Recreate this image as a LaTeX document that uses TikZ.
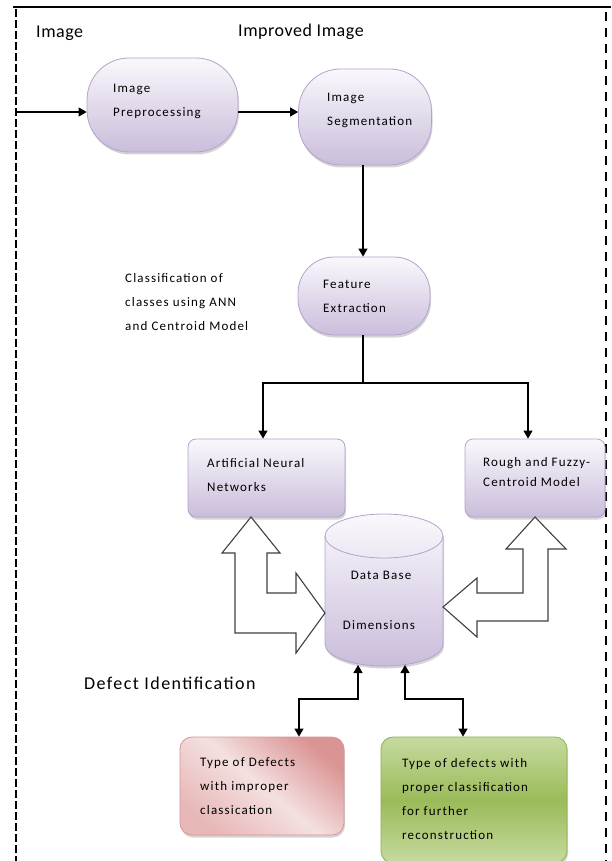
\documentclass[tikz,border=0pt]{standalone}
\usepackage{fontspec}
\setmainfont{Carlito}
\newfontfamily\smallf[LetterSpace=9]{Carlito}
\newfontfamily\bigf[LetterSpace=3]{Carlito}
\newfontfamily\bigwf[LetterSpace=8]{Carlito}
\usetikzlibrary{arrows.meta,shadows}
\definecolor{lavtop}{RGB}{250,248,252}
\definecolor{lavbot}{RGB}{202,189,219}
\definecolor{lavdraw}{RGB}{180,162,204}
\definecolor{pinkdark}{RGB}{218,148,147}
\definecolor{pinklight}{RGB}{244,224,224}
\definecolor{pinkmid}{RGB}{232,184,184}
\definecolor{pinkdraw}{RGB}{214,150,148}
\definecolor{greenmid}{RGB}{155,187,89}
\definecolor{greenlight}{RGB}{198,218,160}
\definecolor{greendraw}{RGB}{140,176,80}
\tikzset{
  shad/.style={drop shadow={shadow xshift=1pt,shadow yshift=-2.5pt,opacity=0.28,fill=black!60}},
  proc/.style={draw=lavdraw,line width=0.8pt,top color=lavtop,bottom color=lavbot,shad},
  txt/.style={inner sep=0pt,align=left,anchor=west,font=\smallf\fontsize{13}{24}\selectfont},
  bigtxt/.style={inner sep=0pt,anchor=west,font=\bigf\fontsize{18}{21}\selectfont},
  conn/.style={line width=1.2pt,-{Triangle[length=8pt,width=9pt]}},
  conn2/.style={line width=1.2pt,{Triangle[length=8pt,width=9pt]}-{Triangle[length=8pt,width=9pt]}},
  hollow/.style={draw=black!75,line width=1.1pt,fill=white,line join=miter},
}
\begin{document}
\begin{tikzpicture}[x=1pt,y=-1pt]
\useasboundingbox (0,0) rectangle (611,861);
% frame
\draw[line width=2.6pt] (13,7) -- (611,7);
\draw[line width=2pt,dash pattern=on 8pt off 3pt] (16,9) -- (16,861);
\draw[line width=1.6pt,dash pattern=on 9pt off 7pt] (606,12) -- (606,861);
% labels
\node[bigtxt] (limg) at (36,33) {Image};
\node[bigtxt] (limp) at (238,32) {Improved Image};
\node[bigtxt,font=\bigwf\fontsize{18}{21}\selectfont] (ldef) at (84,683) {Defect Identification};
\node[txt] (lcls) at (125,302.5) {Classification of\\classes using ANN\\and Centroid Model};
% process nodes
\node[proc,rounded corners=42pt,minimum width=151pt,minimum height=94pt] (pre) at (162.5,105) {};
\node[txt] (tpre) at (113,101.5) {Image\\Preprocessing};
\node[proc,rounded corners=42pt,minimum width=133pt,minimum height=96pt] (seg) at (365,117) {};
\node[txt] (tseg) at (327,110.5) {Image\\Segmentation};
\node[proc,rounded corners=36pt,minimum width=132pt,minimum height=78pt] (fe) at (364,296) {};
\node[txt] (tfe) at (323,296.5) {Feature\\Extraction};
\node[proc,rounded corners=8pt,minimum width=157pt,minimum height=78pt] (ann) at (266.5,478) {};
\node[txt] (tann) at (207,475) {Artificial Neural\\Networks};
\node[proc,rounded corners=8pt,minimum width=140pt,minimum height=78pt] (rfc) at (535,478) {};
\node[txt,font=\smallf\fontsize{13}{20}\selectfont] (trfc) at (483,472) {Rough and Fuzzy-\\Centroid Model};
% database cylinder
\node[minimum width=118pt,minimum height=152pt,inner sep=0pt] (db) at (384,590) {};
\path[shad,draw=lavdraw,line width=0.8pt,top color=lavtop,bottom color=lavbot]
  (325,536) -- (325,644) arc (180:360:59pt and 22pt) -- (443,536) arc (0:180:59pt and 22pt) -- cycle;
\draw[lavdraw,line width=0.8pt] (325,536) arc (180:360:59pt and 22pt);
\node[inner sep=0pt,font=\smallf\fontsize{13}{16}\selectfont] (tdb1) at (381,575) {Data Base};
\node[inner sep=0pt,font=\smallf\fontsize{13}{16}\selectfont] (tdb2) at (379,625) {Dimensions};
% result boxes
\node[draw=pinkdraw,line width=0.8pt,rounded corners=12pt,minimum width=164pt,minimum height=98pt,
      top color=pinkdark,bottom color=pinkmid,middle color=pinklight,shading angle=-40,shad] (pink) at (262,786) {};
\node[txt] (tpink) at (200,786) {Type of Defects\\with improper\\classication};
\node[draw=greendraw,line width=0.8pt,rounded corners=12pt,minimum width=186pt,minimum height=126pt,
      top color=greenlight,bottom color=greenlight,middle color=greenmid,shad] (green) at (474,800) {};
\node[txt] (tgreen) at (402,799) {Type of defects with\\proper classification\\for further\\reconstruction};
% connectors
\coordinate (lin) at (16,112);
\draw[conn] (lin) -- (lin -| pre.west);
\draw[conn] (pre.east |- lin) -- (seg.west |- lin);
\draw[conn] ([xshift=-2pt]seg.south) -- ([xshift=-1pt]fe.north);
\coordinate (split) at (363,383);
\draw[line width=1.2pt] ([xshift=-1pt]fe.south) -- (split);
\draw[conn] (split) -| ([xshift=-3.5pt]ann.north);
\draw[conn] (split) -| ([xshift=-7pt]rfc.north);
\coordinate (dbl) at (358,665);
\coordinate (dbr) at (405,665);
\draw[conn2] (dbl) -- ++(0,34) -| ([xshift=37pt]pink.north);
\draw[conn2] (dbr) -- ++(0,34) -| ([xshift=-11pt]green.north);
% hollow bent arrows
\draw[hollow] (251,517) -- (280,553) -- (267,553) -- (267,593) -- (296,593) -- (296,573) -- (325,613)
  -- (296,653) -- (296,633) -- (235,633) -- (235,553) -- (222,553) -- cycle;
\draw[hollow] (535,517) -- (566,549) -- (548,549) -- (548,621) -- (477,621) -- (477,637) -- (443,607)
  -- (477,578) -- (477,593) -- (523,593) -- (523,549) -- (506,549) -- cycle;
\end{tikzpicture}
\end{document}
